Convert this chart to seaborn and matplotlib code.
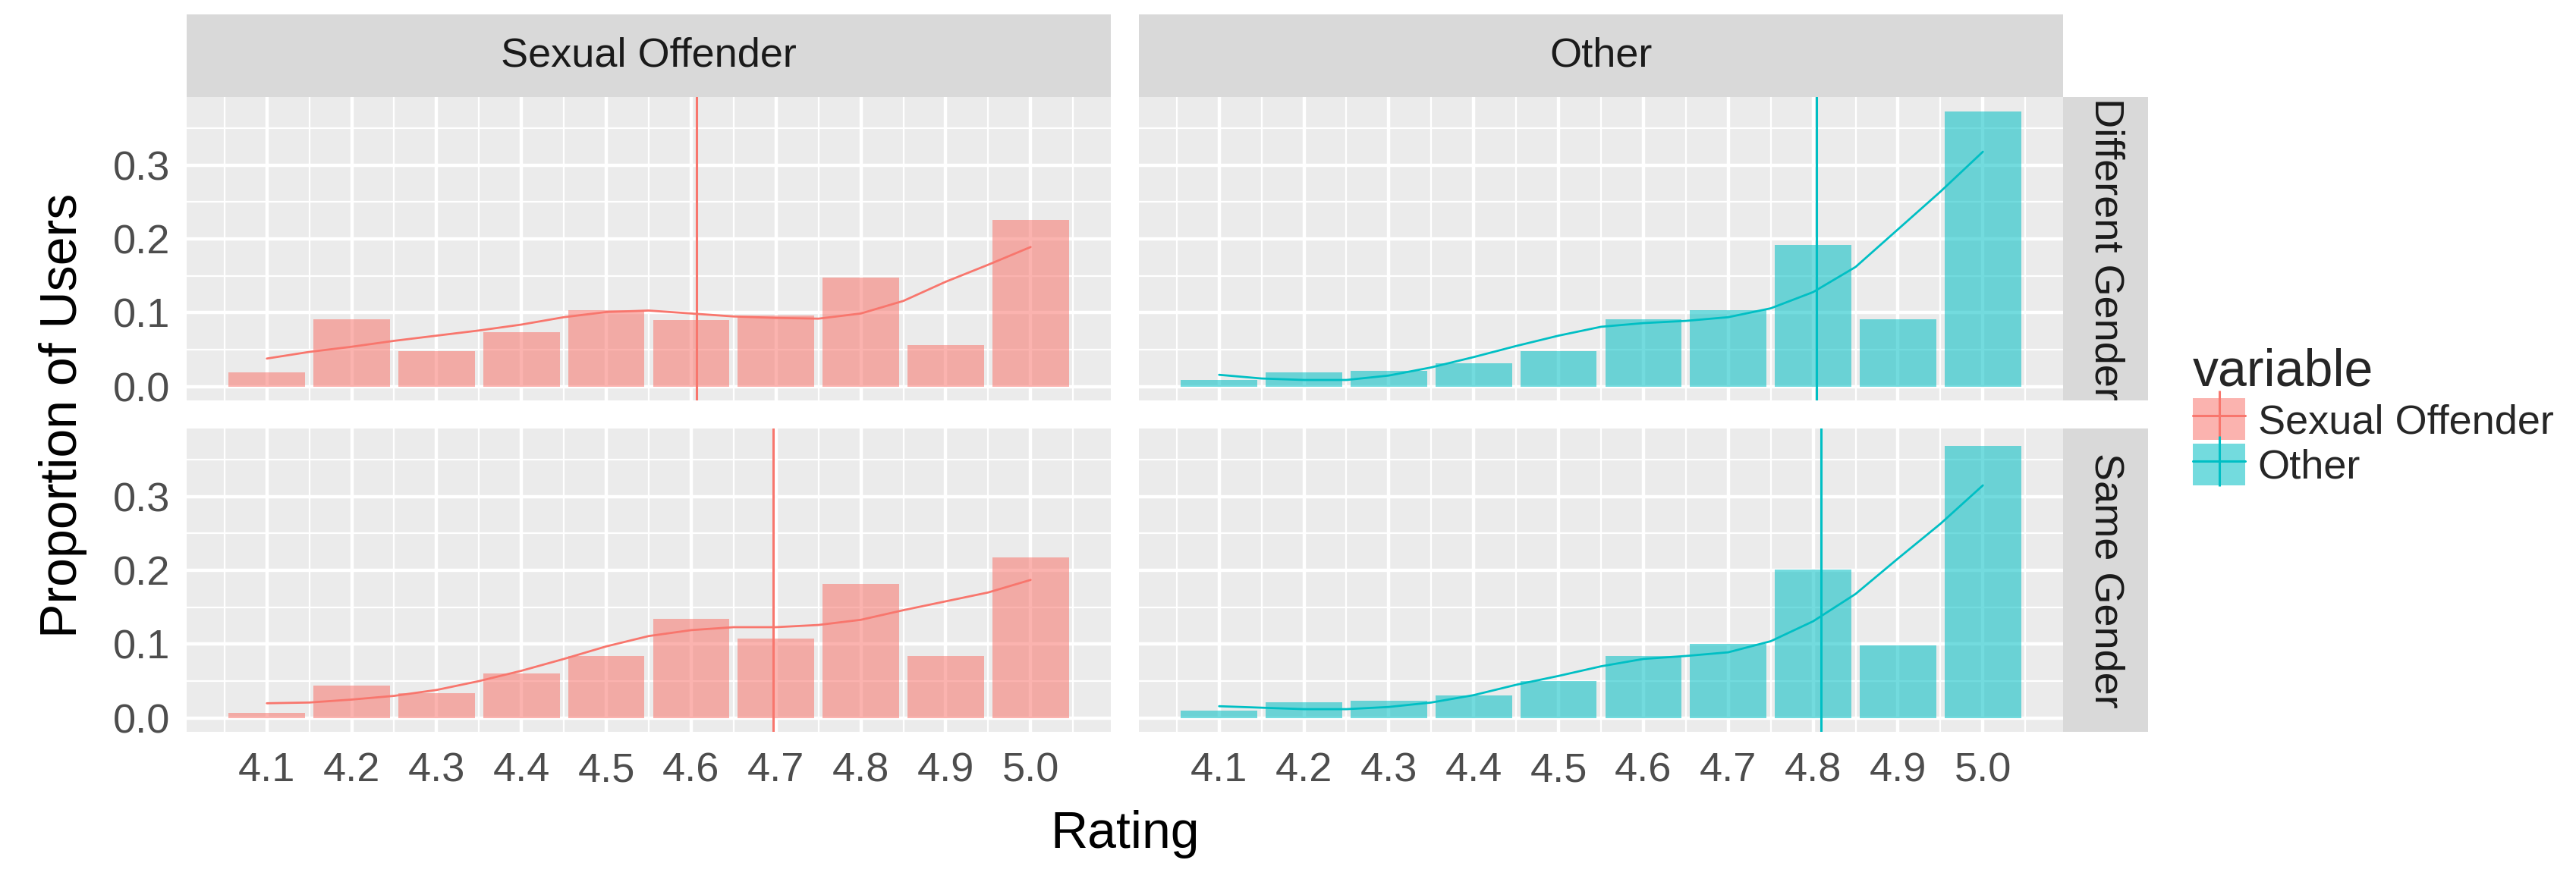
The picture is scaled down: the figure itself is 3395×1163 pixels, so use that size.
import numpy as np
import pandas as pd
import matplotlib
matplotlib.use('Agg')
import matplotlib.pyplot as plt
from matplotlib.patches import Patch
from matplotlib.lines import Line2D
import seaborn as sns

# values
ratings = [4.1, 4.2, 4.3, 4.4, 4.5, 4.6, 4.7, 4.8, 4.9, 5.0]
variables = ['Sexual Offender', 'Other']
genders = ['Different Gender', 'Same Gender']

prop_so_diff = [0.019, 0.091, 0.048, 0.074, 0.103, 0.090, 0.096, 0.148, 0.056, 0.226]
prop_other_diff = [0.009, 0.019, 0.021, 0.032, 0.048, 0.091, 0.103, 0.192, 0.091, 0.373]
prop_so_same = [0.007, 0.044, 0.034, 0.060, 0.084, 0.134, 0.108, 0.182, 0.084, 0.217]
prop_other_same = [0.010, 0.021, 0.023, 0.031, 0.050, 0.084, 0.100, 0.201, 0.098, 0.368]

# smoothed curve, read every 0.05
smooth_x = [4.10, 4.15, 4.20, 4.25, 4.30, 4.35, 4.40, 4.45, 4.50, 4.55,
            4.60, 4.65, 4.70, 4.75, 4.80, 4.85, 4.90, 4.95, 5.00]
smooth_so_diff = [0.038, 0.047, 0.054, 0.062, 0.069, 0.076, 0.084, 0.094, 0.101, 0.103,
                  0.099, 0.095, 0.093, 0.092, 0.099, 0.116, 0.142, 0.165, 0.189]
smooth_other_diff = [0.016, 0.011, 0.009, 0.009, 0.015, 0.026, 0.040, 0.055, 0.069, 0.081,
                     0.086, 0.089, 0.094, 0.106, 0.128, 0.162, 0.213, 0.264, 0.318]
smooth_so_same = [0.020, 0.021, 0.025, 0.030, 0.038, 0.050, 0.064, 0.080, 0.097, 0.111,
                  0.119, 0.123, 0.123, 0.126, 0.133, 0.146, 0.158, 0.170, 0.187]
smooth_other_same = [0.016, 0.014, 0.012, 0.012, 0.015, 0.021, 0.031, 0.045, 0.057, 0.070,
                     0.080, 0.084, 0.089, 0.104, 0.131, 0.168, 0.216, 0.263, 0.315]

# mean rating lines
mean_diff = [4.606, 4.804]
mean_same = [4.697, 4.809]

colors = ['#F8766D', '#00BFC4']
palette = dict(zip(variables, colors))

props = {('Different Gender', 'Sexual Offender'): prop_so_diff,
         ('Different Gender', 'Other'): prop_other_diff,
         ('Same Gender', 'Sexual Offender'): prop_so_same,
         ('Same Gender', 'Other'): prop_other_same}
smooths = {('Different Gender', 'Sexual Offender'): smooth_so_diff,
           ('Different Gender', 'Other'): smooth_other_diff,
           ('Same Gender', 'Sexual Offender'): smooth_so_same,
           ('Same Gender', 'Other'): smooth_other_same}
means = {('Different Gender', 'Sexual Offender'): mean_diff[0],
         ('Different Gender', 'Other'): mean_diff[1],
         ('Same Gender', 'Sexual Offender'): mean_same[0],
         ('Same Gender', 'Other'): mean_same[1]}

rows = []
for (gen, var), vals in props.items():
    for r, p in zip(ratings, vals):
        rows.append({'Rating': r, 'Proportion': p, 'variable': var, 'Gender': gen})
df = pd.DataFrame(rows)

sns.set_theme(style='darkgrid', rc={'axes.facecolor': '#EBEBEB'})
plt.rcParams['font.family'] = ['Liberation Sans', 'DejaVu Sans']

W, H = 3395, 1163
SMALL, BIG = 39, 49


def draw_bars(data, color, **kws):
    plt.bar(data['Rating'], data['Proportion'], width=0.09, color=color,
            alpha=0.55, linewidth=0, zorder=2)


g = sns.FacetGrid(df, row='Gender', col='variable', hue='variable', palette=palette,
                  row_order=genders, col_order=variables, hue_order=variables,
                  sharex=True, sharey=True, despine=False)
g.map_dataframe(draw_bars)

fig = g.figure
fig.set_size_inches(W / 100, H / 100)

for (gen, var), ax in g.axes_dict.items():
    c = palette[var]
    sns.lineplot(x=smooth_x, y=smooths[(gen, var)], ax=ax, color=c, lw=2.0, zorder=3)
    ax.axvline(means[(gen, var)], color=c, lw=2.2, zorder=4)
    ax.set_title('')
    ax.set_xlabel('')
    ax.set_ylabel('')
    ax.set_xlim(4.0055, 5.0945)
    ax.set_ylim(-0.0187, 0.392)
    ax.set_xticks(ratings)
    ax.set_xticks([4.05 + 0.1 * i for i in range(11)], minor=True)
    ax.set_yticks([0.0, 0.1, 0.2, 0.3])
    ax.set_yticks([0.05, 0.15, 0.25, 0.35], minor=True)
    ax.set_xticklabels(['%.1f' % r for r in ratings])
    ax.set_yticklabels(['0.0', '0.1', '0.2', '0.3'])
    ax.set_axisbelow(True)
    ax.grid(which='major', color='white', lw=3.2)
    ax.grid(which='minor', color='white', lw=1.6)
    for s in ax.spines.values():
        s.set_visible(False)
    ax.tick_params(which='minor', length=0)
    ax.tick_params(which='major', labelsize=SMALL, labelcolor='#4D4D4D', color='#333333',
                   length=12, width=2)
    ax.tick_params(axis='x', pad=7)
    ax.tick_params(axis='y', pad=4)
    if gen == genders[0]:
        ax.tick_params(axis='x', length=0, labelbottom=False)
    if var == variables[1]:
        ax.tick_params(axis='y', length=0, labelleft=False)

fig.subplots_adjust(left=246 / W, right=2719 / W, top=1 - 128 / H, bottom=1 - 965 / H,
                    wspace=0.0304, hspace=0.0925)

# ggplot style strips
for var, ax in zip(variables, g.axes[0]):
    p = ax.get_position()
    sax = fig.add_axes([p.x0, p.y1, p.width, 109 / H])
    sax.set_facecolor('#D9D9D9')
    sax.set_xticks([])
    sax.set_yticks([])
    sax.grid(False)
    for s in sax.spines.values():
        s.set_visible(False)
    sax.text(0.5, 0.5, var, ha='center', va='center', fontsize=SMALL, color='#1A1A1A',
             transform=sax.transAxes)

for gen, ax in zip(genders, g.axes[:, 1]):
    p = ax.get_position()
    sax = fig.add_axes([p.x1, p.y0, 112 / W, p.height])
    sax.set_facecolor('#D9D9D9')
    sax.set_xticks([])
    sax.set_yticks([])
    sax.grid(False)
    for s in sax.spines.values():
        s.set_visible(False)
    sax.text(0.5, 0.5, gen, ha='center', va='center', fontsize=SMALL, color='#1A1A1A',
             rotation=-90, rotation_mode='anchor', transform=sax.transAxes, clip_on=True)

fig.text(83 / W, 1 - 548 / H, 'Proportion of Users', rotation=90, ha='center', va='center',
         fontsize=BIG, color='black')
fig.text(1483 / W, 1 - 1100 / H, 'Rating', ha='center', va='center', fontsize=BIG,
         color='black')

handles = []
for c in colors:
    patch = Patch(facecolor=c, alpha=0.55, edgecolor='none')
    line = Line2D([0], [0], color=c, lw=2.2, marker='|', markersize=48, markeredgewidth=2.2)
    handles.append((patch, line))
fig.legend(handles, variables, title='variable', loc='center left',
           bbox_to_anchor=(2890 / W, 1 - 550 / H), frameon=False, fontsize=SMALL,
           title_fontsize=BIG, handlelength=1.28, handleheight=1.2, labelspacing=0.05,
           handletextpad=0.3, borderpad=0, borderaxespad=0, alignment='left')

fig.savefig('out.png', dpi=100)
